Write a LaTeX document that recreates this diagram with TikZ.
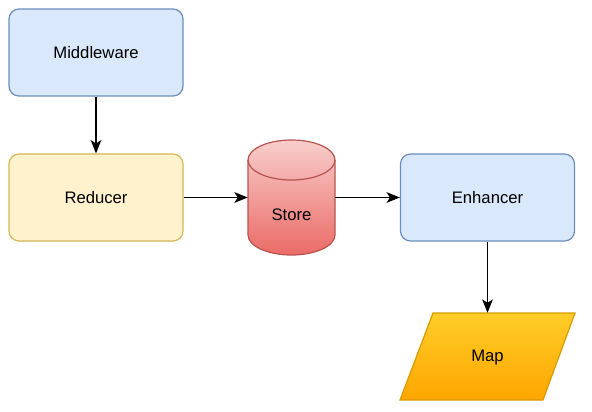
\documentclass[tikz,border=0pt]{standalone}
\usepackage{fontspec}
\setmainfont{Liberation Sans}
\usetikzlibrary{arrows.meta}
\definecolor{bluefill}{HTML}{DAE8FC}
\definecolor{bluestroke}{HTML}{6C8EBF}
\definecolor{yellowfill}{HTML}{FFF2CC}
\definecolor{yellowstroke}{HTML}{D6B656}
\definecolor{redtop}{HTML}{F8CECC}
\definecolor{redbottom}{HTML}{EA6B66}
\definecolor{redstroke}{HTML}{B85450}
\definecolor{orangetop}{HTML}{FFCD28}
\definecolor{orangebottom}{HTML}{FFA500}
\definecolor{orangestroke}{HTML}{D79B00}
\begin{document}
\begin{tikzpicture}[x=0.75pt,y=-0.75pt,
  font=\fontsize{12.5}{15}\selectfont,
  box/.style={draw, rounded corners=7.5pt, minimum width=130.5pt, minimum height=65.25pt, line width=0.9pt, inner sep=0pt},
  bluebox/.style={box, fill=bluefill, draw=bluestroke},
  yellowbox/.style={box, fill=yellowfill, draw=yellowstroke},
  ghost/.style={inner sep=0pt, draw=none, fill=none},
  conn/.style={-{Stealth[length=10pt,width=8pt,inset=2.5pt]}, line width=0.9pt, black}]
\useasboundingbox (0,0) rectangle (592,411);

\node[bluebox] (middleware) at (96,52.5) {Middleware};
\node[yellowbox] (reducer) at (96,197.5) {Reducer};
\node[bluebox] (enhancer) at (487.5,197.5) {Enhancer};

% Store cylinder
\path[draw=redstroke, line width=0.9pt, top color=redtop, bottom color=redbottom]
  (248,160) -- (248,235) arc[start angle=180, end angle=0, x radius=43.5, y radius=20]
  -- (335,160) arc[start angle=0, end angle=-180, x radius=43.5, y radius=20] -- cycle;
\draw[redstroke, line width=0.9pt] (248,160) arc[start angle=180, end angle=0, x radius=43.5, y radius=20];
\node[ghost, minimum width=65.25pt, minimum height=86.25pt] (store) at (291.5,197.5) {};
\node (storelabel) at (291.5,215) {Store};

% Map parallelogram
\path[draw=orangestroke, line width=0.9pt, top color=orangetop, bottom color=orangebottom]
  (433,313) -- (575,313) -- (543,400) -- (400,400) -- cycle;
\node[ghost, minimum width=131.25pt, minimum height=65.25pt] (map) at (487.5,356.5) {};
\node (maplabel) at (487.5,357) {Map};

\draw[conn] (middleware.south) -- (reducer.north);
\draw[conn] (reducer.east) -- (store.west);
\draw[conn] (store.east) -- (enhancer.west);
\draw[conn] (enhancer.south) -- (map.north);
\end{tikzpicture}
\end{document}
